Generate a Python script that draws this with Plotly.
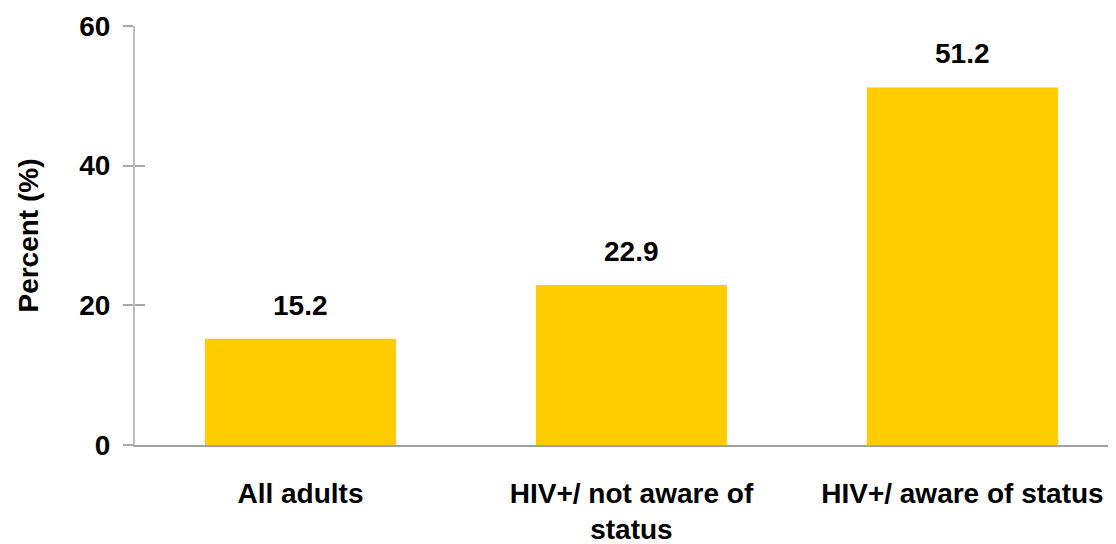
import plotly.graph_objects as go

categories = ["All adults", "HIV+/ not aware of<br>status", "HIV+/ aware of status"]
values = [15.2, 22.9, 51.2]
y_ticks = [0, 20, 40, 60]

BAR_COLOR = "#FFCC00"
FONT = "Liberation Sans, Arial, sans-serif"
FS = 28

fig = go.Figure()

fig.add_trace(
    go.Bar(
        x=categories,
        y=values,
        marker=dict(color=BAR_COLOR, line=dict(width=0)),
        showlegend=False,
        hoverinfo="skip",
    )
)

# value labels above each bar
for cat, val in zip(categories, values):
    fig.add_annotation(
        x=cat,
        y=val,
        text=f"<b>{val:.1f}</b>",
        showarrow=False,
        yanchor="bottom",
        yshift=16,
        font=dict(family=FONT, size=FS, color="black"),
    )

# invisible trace on an overlaid axis just to draw the inside half of the y ticks
fig.add_trace(
    go.Scatter(x=[categories[0]], y=[0], yaxis="y2", mode="markers",
               marker=dict(opacity=0), showlegend=False, hoverinfo="skip")
)

# page body has an 8px default margin, so the figure is a bit smaller than the window
fig.update_layout(
    width=1108,
    height=536,
    margin=dict(l=127, r=0, t=18, b=99),
    paper_bgcolor="white",
    plot_bgcolor="white",
    bargap=0.423,
    font=dict(family=FONT, size=FS, color="black"),
    xaxis=dict(
        range=[-0.5, 2.464],
        automargin=False,
        showline=True,
        linecolor="#A0A0A0",
        linewidth=2,
        ticks="",
        showgrid=False,
        tickfont=dict(family=FONT, size=FS, color="black", weight="bold"),
        ticklabelstandoff=22,
    ),
    yaxis=dict(
        range=[0, 60],
        automargin=False,
        tickvals=y_ticks,
        showline=True,
        linecolor="#BDBDBD",
        linewidth=2,
        ticks="outside",
        ticklen=10,
        tickwidth=2,
        tickcolor="#A8A8A8",
        showgrid=False,
        zeroline=False,
        tickfont=dict(family=FONT, size=FS, color="black", weight="bold"),
        ticklabelstandoff=7,
        title=dict(
            text="<b>Percent (%)</b>",
            font=dict(family=FONT, size=FS, color="black"),
            standoff=32,
        ),
    ),
    yaxis2=dict(
        range=[0, 60],
        automargin=False,
        tickvals=y_ticks,
        overlaying="y",
        side="left",
        showline=False,
        ticks="inside",
        ticklen=10,
        tickwidth=2,
        tickcolor="#A8A8A8",
        showticklabels=False,
        showgrid=False,
        zeroline=False,
    ),
)

fig.write_html("out.html")
